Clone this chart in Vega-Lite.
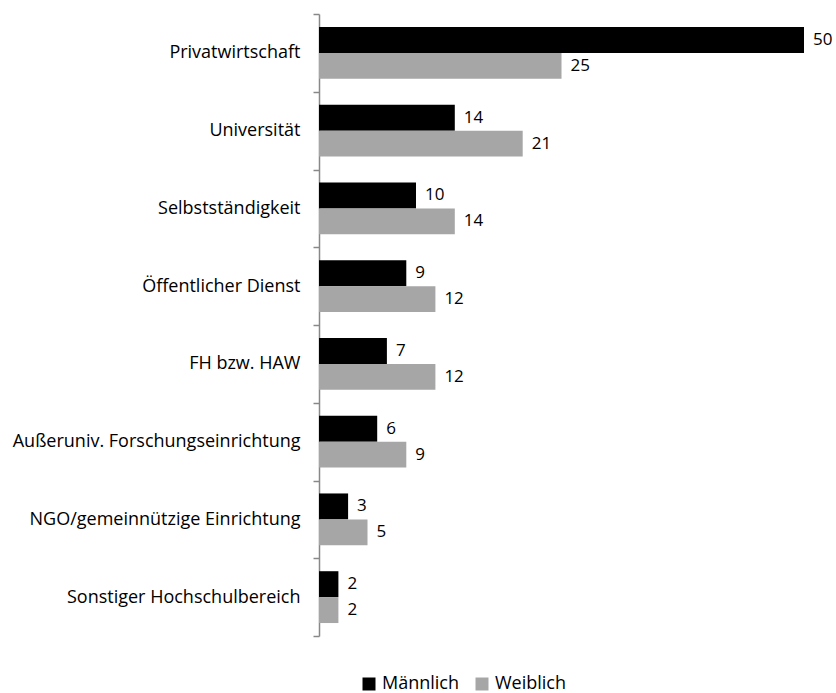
{
  "$schema": "https://vega.github.io/schema/vega-lite/v6.json",
  "autosize": "none",
  "width": 485,
  "height": 622,
  "padding": {"left": 319, "top": 14, "right": 32, "bottom": 57},
  "background": "white",
  "config": {"view": {"stroke": null}, "font": "Open Sans"},
  "data": {"values": [
    {"cat": "Privatwirtschaft", "g": "Männlich", "v": 50},
    {"cat": "Privatwirtschaft", "g": "Weiblich", "v": 25},
    {"cat": "Universität", "g": "Männlich", "v": 14},
    {"cat": "Universität", "g": "Weiblich", "v": 21},
    {"cat": "Selbstständigkeit", "g": "Männlich", "v": 10},
    {"cat": "Selbstständigkeit", "g": "Weiblich", "v": 14},
    {"cat": "Öffentlicher Dienst", "g": "Männlich", "v": 9},
    {"cat": "Öffentlicher Dienst", "g": "Weiblich", "v": 12},
    {"cat": "FH bzw. HAW", "g": "Männlich", "v": 7},
    {"cat": "FH bzw. HAW", "g": "Weiblich", "v": 12},
    {"cat": "Außeruniv. Forschungseinrichtung", "g": "Männlich", "v": 6},
    {"cat": "Außeruniv. Forschungseinrichtung", "g": "Weiblich", "v": 9},
    {"cat": "NGO/gemeinnützige Einrichtung", "g": "Männlich", "v": 3},
    {"cat": "NGO/gemeinnützige Einrichtung", "g": "Weiblich", "v": 5},
    {"cat": "Sonstiger Hochschulbereich", "g": "Männlich", "v": 2},
    {"cat": "Sonstiger Hochschulbereich", "g": "Weiblich", "v": 2}
  ]},
  "encoding": {
    "y": {"field": "cat", "type": "nominal", "sort": null, "title": null,
      "scale": {"paddingInner": 0, "paddingOuter": 0},
      "axis": {"tickBand": "extent", "domainColor": "#888888", "tickColor": "#888888", "tickSize": 6, "labelPadding": 13, "labelFontSize": 18, "labelLimit": 0, "labelColor": "#000000", "domainWidth": 1.5, "tickWidth": 1.5}},
    "yOffset": {"field": "g", "type": "nominal", "scale": {"paddingInner": 0, "paddingOuter": 0.5}},
    "x": {"field": "v", "type": "quantitative", "scale": {"domain": [0, 50], "nice": false}, "axis": null}
  },
  "layer": [
    {"mark": {"type": "bar"},
     "encoding": {"color": {"field": "g", "type": "nominal", "title": null,
       "scale": {"domain": ["Männlich", "Weiblich"], "range": ["#000000", "#a6a6a6"]},
       "legend": {"orient": "none", "legendX": 41, "legendY": 661, "direction": "horizontal", "symbolType": "square", "symbolSize": 169, "symbolStrokeWidth": 0, "labelFontSize": 18, "labelColor": "#000000", "columnPadding": 13, "labelOffset": 4}}}},
    {"mark": {"type": "text", "align": "left", "dx": 9, "fontSize": 17, "color": "#000000"},
     "encoding": {"text": {"field": "v", "type": "quantitative"}}}
  ]
}
